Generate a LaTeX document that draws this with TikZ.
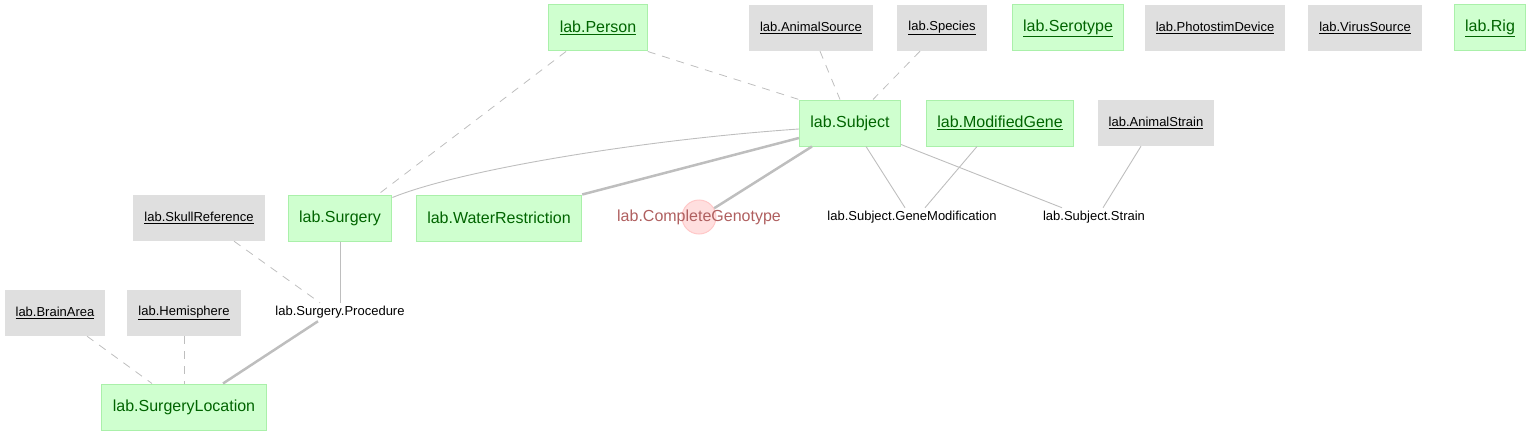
\documentclass[tikz,border=0pt]{standalone}
\usepackage{fontspec}
\setmainfont{Liberation Sans}
\usepackage{tikz}
\usetikzlibrary{shapes.geometric}
\definecolor{manualfill}{RGB}{207,255,207}
\definecolor{manualline}{RGB}{170,240,170}
\definecolor{manualtext}{RGB}{0,100,0}
\definecolor{lookupfill}{RGB}{223,223,223}
\definecolor{computedfill}{RGB}{255,223,223}
\definecolor{computedline}{RGB}{255,200,200}
\definecolor{computedtext}{RGB}{175,95,95}
\definecolor{edgegray}{RGB}{190,190,190}

\begin{document}
\begin{tikzpicture}[x=1pt,y=-1pt,
	manual/.style={rectangle,draw=manualline,line width=1pt,fill=manualfill,text=manualtext,font=\fontsize{16}{19}\selectfont,minimum height=46pt,inner xsep=11pt},
	lookup/.style={rectangle,fill=lookupfill,text=black,font=\fontsize{13}{15}\selectfont,minimum height=46pt,inner xsep=11pt},
	part/.style={text=black,font=\fontsize{13}{15}\selectfont,inner sep=3pt},
	computed/.style={circle,draw=computedline,line width=1pt,fill=computedfill,minimum size=34pt,inner sep=0pt},
	fk/.style={draw=edgegray,line width=0.9pt},
	fkdash/.style={draw=edgegray,line width=0.8pt,dash pattern=on 8pt off 7pt},
	fkmaster/.style={draw=edgegray,line width=2.5pt}]
				\useasboundingbox (0,0) rectangle (1533,436);
				\node[manual] (person) at (598,28) {\underline{lab.Person}};
				\node[lookup] (animalsource) at (811,28) {\underline{lab.AnimalSource}};
				\node[lookup] (species) at (942,28) {\underline{lab.Species}};
				\node[manual] (serotype) at (1068,28) {\underline{lab.Serotype}};
				\node[lookup] (photostim) at (1215,28) {\underline{lab.PhotostimDevice}};
				\node[lookup] (virussource) at (1365,28) {\underline{lab.VirusSource}};
				\node[manual] (rig) at (1490,28) {\underline{lab.Rig}};
				\node[manual] (subject) at (850,123) {lab.Subject};
				\node[manual] (modifiedgene) at (1000,123) {\underline{lab.ModifiedGene}};
				\node[lookup] (animalstrain) at (1156,123) {\underline{lab.AnimalStrain}};
				\node[lookup] (skullref) at (199,218) {\underline{lab.SkullReference}};
				\node[manual] (surgery) at (340,218) {lab.Surgery};
				\node[manual] (water) at (499,218) {lab.WaterRestriction};
				\node[computed,label={[text=computedtext,font=\fontsize{16}{19}\selectfont]center:lab.CompleteGenotype}] (genotype) at (699,217) {};
				\node[part] (genemod) at (912,217) {lab.Subject.GeneModification};
				\node[part] (strain) at (1094,217) {lab.Subject.Strain};
				\node[lookup] (brainarea) at (55,313) {\underline{lab.BrainArea}};
				\node[lookup] (hemisphere) at (184,313) {\underline{lab.Hemisphere}};
				\node[part] (procedure) at (340,312) {lab.Surgery.Procedure};
				\node[manual] (location) at (184,407) {lab.SurgeryLocation};
				\draw[fkdash] (person.south east) -- (subject.north west);
				\draw[fkdash] ([xshift=-32pt]person.south) -- ([xshift=38pt]surgery.north);
				\draw[fkdash] ([xshift=9pt]animalsource.south) -- ([xshift=-10pt]subject.north);
				\draw[fkdash] ([xshift=-22pt]species.south) -- ([xshift=23pt]subject.north);
				\draw[fk] ([yshift=-6pt]subject.west) .. controls (640,140) and (460,170) .. ([yshift=-3pt]surgery.north east);
				\draw[fkmaster] ([yshift=-15pt]subject.west) -- (water.north east);
				\draw[fkmaster] ([xshift=-38pt]subject.south) -- (genotype.30);
				\draw[fk] ([xshift=16pt]subject.south) -- ([xshift=-7pt]genemod.north);
				\draw[fk] ([xshift=-23pt]modifiedgene.south) -- ([xshift=13pt]genemod.north);
				\draw[fk] ([yshift=2pt]subject.south east) -- ([xshift=-32pt]strain.north);
				\draw[fk] ([xshift=-15pt]animalstrain.south) -- ([xshift=9pt]strain.north);
				\draw[fk] (surgery.south) -- (procedure.north);
				\draw[fkdash] ([xshift=35pt]skullref.south) -- ([xshift=-20pt]procedure.north);
				\draw[fkmaster] ([xshift=-22pt]procedure.south) -- ([xshift=39pt]location.north);
				\draw[fkdash] ([xshift=32pt]brainarea.south) -- ([xshift=-32pt]location.north);
				\draw[fkdash] (hemisphere.south) -- (location.north);
			\end{tikzpicture}
\end{document}
